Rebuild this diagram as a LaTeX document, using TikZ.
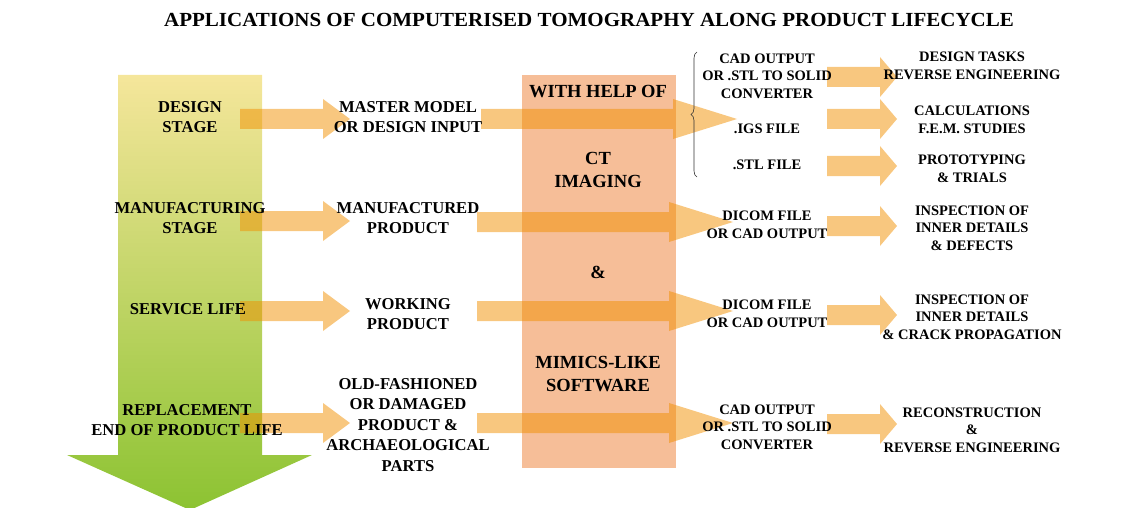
\documentclass[tikz,border=0pt]{standalone}
\usepackage{fontspec}
\setmainfont{Liberation Serif}
\usetikzlibrary{calc,decorations.pathreplacing}
\definecolor{arrowc}{RGB}{241,143,0}
\definecolor{boxc}{RGB}{246,190,152}
\definecolor{gtop}{RGB}{245,230,155}
\definecolor{gmid}{RGB}{205,214,85}
\definecolor{gbot}{RGB}{140,195,50}
\begin{document}
\begin{tikzpicture}[x=1pt,y=-1pt,
  txt/.style={font=\bfseries\fontsize{16.6}{20.5}\selectfont, align=center, inner sep=0pt},
  rtxt/.style={font=\bfseries\fontsize{14.5}{17.5}\selectfont, align=center, inner sep=0pt},
  boxtxt/.style={font=\bfseries\fontsize{18.5}{22.5}\selectfont, align=center, inner sep=0pt},
  fatarrow/.style={fill=arrowc, fill opacity=0.5},
  fat/.style={to path={($(\tikztostart)+(0,-10)$) -- ($(\tikztotarget)+(-#1,-10)$) -- ($(\tikztotarget)+(-#1,-20)$) -- (\tikztotarget) -- ($(\tikztotarget)+(-#1,20)$) -- ($(\tikztotarget)+(-#1,10)$) -- ($(\tikztostart)+(0,10)$) -- cycle}}
]
\useasboundingbox (0,0) rectangle (1138,508);

% title
\node[font=\bfseries\fontsize{20}{24}\selectfont, inner sep=0pt] (title) at (589,20) {\scalebox{1.05}[1]{APPLICATIONS OF COMPUTERISED TOMOGRAPHY ALONG PRODUCT LIFECYCLE}};

% lifecycle arrow
\shade[top color=gtop, middle color=gmid, bottom color=gbot]
  (118,75) -- (262,75) -- (262,455) -- (312,455) -- (190,510) -- (67,455) -- (118,455) -- cycle;

% central box
\fill[boxc] (522,75) rectangle (676,468);

% arrow coordinates
\coordinate (a1s) at (240,119); \coordinate (a1e) at (350,119);
\coordinate (a2s) at (240,221); \coordinate (a2e) at (350,221);
\coordinate (a3s) at (240,311); \coordinate (a3e) at (350,311);
\coordinate (a4s) at (240,423); \coordinate (a4e) at (350,423);
\coordinate (b1s) at (481,119); \coordinate (b1e) at (737,119);
\coordinate (b2s) at (477,222); \coordinate (b2e) at (733,222);
\coordinate (b3s) at (477,311); \coordinate (b3e) at (733,311);
\coordinate (b4s) at (477,423); \coordinate (b4e) at (733,423);
\coordinate (c1s) at (827,77);  \coordinate (c1e) at (897,77);
\coordinate (c2s) at (827,119); \coordinate (c2e) at (897,119);
\coordinate (c3s) at (827,166); \coordinate (c3e) at (897,166);
\coordinate (c4s) at (827,226); \coordinate (c4e) at (897,226);
\coordinate (c5s) at (827,315); \coordinate (c5e) at (897,315);
\coordinate (c6s) at (827,424); \coordinate (c6e) at (897,424);

\foreach \i in {1,...,4} {\fill[fatarrow] (a\i s) to[fat=27] (a\i e);}
\foreach \i in {1,...,4} {\fill[fatarrow] (b\i s) to[fat=64] (b\i e);}
\foreach \i in {1,...,6} {\fill[fatarrow] (c\i s) to[fat=17] (c\i e);}

% stage texts
\node[txt] (s1) at (190,117) {DESIGN\\STAGE};
\node[txt] (s2) at (190,218) {MANUFACTURING\\STAGE};
\node[txt] (s3) at (188,309) {SERVICE LIFE};
\node[txt] (s4) at (187,420) {REPLACEMENT\\END OF PRODUCT LIFE};

% middle texts
\node[txt] (m1) at (408,117) {MASTER MODEL\\OR DESIGN INPUT};
\node[txt] (m2) at (408,218) {MANUFACTURED\\PRODUCT};
\node[txt] (m3) at (408,314) {WORKING\\PRODUCT};
\node[txt] (m4) at (408,425) {OLD-FASHIONED\\OR DAMAGED\\PRODUCT \&\\ARCHAEOLOGICAL\\PARTS};

% box texts
\node[boxtxt] (bx1) at (598,92) {WITH HELP OF};
\node[boxtxt] (bx2) at (598,170) {CT\\IMAGING};
\node[boxtxt] (bx3) at (598,272) {\&};
\node[boxtxt] (bx4) at (598,374) {MIMICS-LIKE\\SOFTWARE};

% file texts
\node[rtxt] (f1) at (767,76) {CAD OUTPUT\\OR .STL TO SOLID\\CONVERTER};
\node[rtxt] (f2) at (767,129) {.IGS FILE};
\node[rtxt] (f3) at (767,165) {.STL FILE};
\node[rtxt] (f4) at (767,225) {DICOM FILE\\OR CAD OUTPUT};
\node[rtxt] (f5) at (767,314) {DICOM FILE\\OR CAD OUTPUT};
\node[rtxt] (f6) at (767,427) {CAD OUTPUT\\OR .STL TO SOLID\\CONVERTER};

\coordinate (brb) at (697,177);
\coordinate (brt) at (697,52);
\draw[black!80, line width=0.6pt, decorate, decoration={brace, amplitude=6pt}] (brb) -- (brt);

% results
\node[rtxt] (r1) at (972,66) {DESIGN TASKS\\REVERSE ENGINEERING};
\node[rtxt] (r2) at (972,120) {CALCULATIONS\\F.E.M. STUDIES};
\node[rtxt] (r3) at (972,169) {PROTOTYPING\\\& TRIALS};
\node[rtxt] (r4) at (972,228) {INSPECTION OF\\INNER DETAILS\\\& DEFECTS};
\node[rtxt] (r5) at (972,317) {INSPECTION OF\\INNER DETAILS\\\& CRACK PROPAGATION};
\node[rtxt] (r6) at (972,430) {RECONSTRUCTION\\\&\\REVERSE ENGINEERING};
\end{tikzpicture}
\end{document}
